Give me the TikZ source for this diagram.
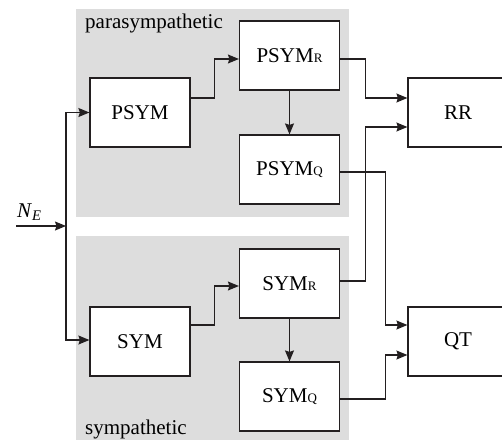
\documentclass[tikz,border=0pt]{standalone}
\usepackage{fontspec}
\setmainfont{Liberation Serif}
\usetikzlibrary{
  arrows.meta,
  positioning
}
\definecolor{cline}{RGB}{35,31,32}
\definecolor{cpanel}{RGB}{221,221,221}
\newcommand{\lowcap}[1]{{\fontsize{13}{13}\selectfont #1}}
\tikzset{
  block/.style={
    rectangle, draw=cline, fill=white, line width=1.2pt,
    minimum width=100pt, minimum height=69pt, inner sep=0pt,
    font=\fontsize{21}{25}\selectfont
  },
  panel/.style={fill=cpanel},
  lbl/.style={
    font=\fontsize{21}{25}\selectfont, inner sep=0pt, anchor=base west
  },
  arr/.style={-{Stealth[length=11pt,width=9pt,inset=1.5pt]}, line width=1.2pt, color=cline}
}

\begin{document}
\begin{tikzpicture}[x=1pt,y=-1pt]
    \useasboundingbox (0,0) rectangle (502,440);

    %% Panels
    \fill[panel] (76,9) rectangle (349,217);
    \fill[panel] (76,236) rectangle (349,440);
    \node[lbl] (lpara) at (85,28) {parasympathetic};
    \node[lbl] (lsym) at (85,434) {sympathetic};

    %% Blocks
    \node[block] (psym) at (140,112.5) {PSYM};
    \node[block] (psymr) at (289.5,55.5) {PSYM\lowcap{R}};
    \node[block] (psymq) at (289.5,169.5) {PSYM\lowcap{Q}};
    \node[block] (sym) at (140,341.5) {SYM};
    \node[block] (symr) at (289.5,283.5) {SYM\lowcap{R}};
    \node[block] (symq) at (289.5,396.5) {SYM\lowcap{Q}};
    \node[block] (rr) at (458,112.5) {RR};
    \node[block] (qt) at (458,341.5) {QT};

    %% Input
    \coordinate (ne) at (16,226);
    \coordinate (split) at (66,226);
    \node[lbl] (lne) at (17,217) {\textit{N}\textsubscript{\textit{E}}};
    \draw[arr] (ne) -- (split);
    \draw[arr] (split) |- (psym.west);
    \draw[arr] (split) |- ([yshift=1.5pt]sym.west);

    %% Parasympathetic branch
    \draw[arr] ([yshift=14.5pt]psym.east) -- ++(24,0) |- ([yshift=-3.5pt]psymr.west);
    \draw[arr] (psymr) -- (psymq);
    \draw[arr] ([yshift=-3.5pt]psymr.east) -- ++(25,0) |- ([yshift=14.5pt]rr.west);
    \draw[arr] ([yshift=-2.5pt]psymq.east) -- ++(45,0) |- ([yshift=16.5pt]qt.west);

    %% Sympathetic branch
    \draw[arr] ([yshift=16.5pt]sym.east) -- ++(24,0) |- ([yshift=-2.5pt]symr.west);
    \draw[arr] (symr) -- (symq);
    \draw[arr] ([yshift=2.5pt]symr.east) -- ++(25,0) |- ([yshift=-14.5pt]rr.west);
    \draw[arr] ([yshift=-2.5pt]symq.east) -- ++(45,0) |- ([yshift=-13.5pt]qt.west);

\end{tikzpicture}
\end{document}
